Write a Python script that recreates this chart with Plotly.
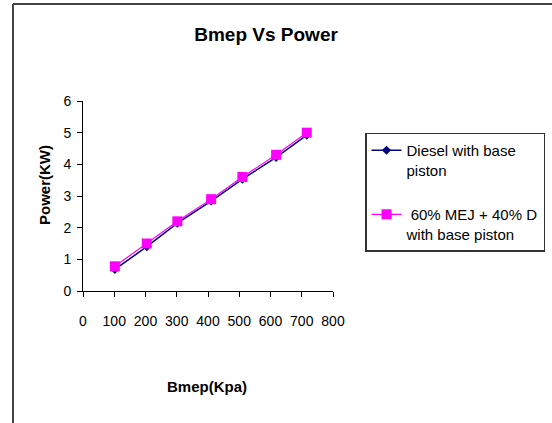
import plotly.graph_objects as go

# Brake mean effective pressure (kPa) and measured power (kW)
bmep = [102, 204, 302, 410, 510, 618, 716]
power_diesel = [0.68, 1.40, 2.14, 2.84, 3.53, 4.22, 4.92]
power_blend = [0.78, 1.50, 2.20, 2.90, 3.60, 4.30, 5.00]

x_ticks = [0, 100, 200, 300, 400, 500, 600, 700, 800]
y_ticks = [0, 1, 2, 3, 4, 5, 6]

FONT = "Liberation Sans, Arial, sans-serif"

fig = go.Figure()
fig.add_trace(go.Scatter(
    x=bmep, y=power_diesel, mode="lines+markers",
    name="Diesel with base<br>piston", legendgroup="diesel",
    line=dict(color="#000080", width=1.5),
    marker=dict(symbol="diamond", size=7, color="#000080"),
))
fig.add_trace(go.Scatter(
    x=bmep, y=power_blend, mode="lines+markers",
    name=" 60% MEJ + 40% D<br>with base piston", legendgroup="blend",
    line=dict(color="#FF00FF", width=1.2),
    marker=dict(symbol="square", size=10, color="#FF00FF"),
))

axis_common = dict(
    showgrid=False, zeroline=False, showline=True, linecolor="black",
    linewidth=1, ticks="outside", ticklen=5, tickcolor="black",
    tickangle=0, automargin=False,
    tickfont=dict(family=FONT, size=14, color="black"),
)
fig.update_xaxes(range=[0, 800], tickvals=x_ticks, ticklabelstandoff=12,
                 **axis_common)
fig.update_yaxes(range=[0, 6], tickvals=y_ticks, ticklabelstandoff=3,
                 **axis_common)

fig.update_layout(
    width=552, height=423,
    margin=dict(l=83, r=219, t=101, b=132, autoexpand=False),
    paper_bgcolor="white", plot_bgcolor="white",
    font=dict(family=FONT, color="black"),
    title=dict(text="<b>Bmep Vs Power</b>", x=0.482, xanchor="center",
               y=1 - 34 / 423, yanchor="middle",
               font=dict(family=FONT, size=19, color="black")),
    showlegend=True,
    legend=dict(x=1.128, xanchor="left", y=0.834, yanchor="top",
                bordercolor="#333333", borderwidth=1.5, bgcolor="white",
                valign="top", tracegroupgap=22,
                font=dict(family=FONT, size=15, color="black")),
    annotations=[
        dict(text="<b>Bmep(Kpa)</b>", xref="paper", yref="paper",
             x=0.496, y=-0.505, showarrow=False, xanchor="center",
             yanchor="middle", font=dict(family=FONT, size=15)),
        dict(text="<b>Power(KW)</b>", xref="paper", yref="paper",
             x=-0.152, y=0.558, showarrow=False, textangle=-90,
             xanchor="center", yanchor="middle",
             font=dict(family=FONT, size=15)),
    ],
    shapes=[
        # chart area frame: left and top edges
        dict(type="line", xref="paper", yref="paper",
             x0=-0.28, x1=-0.28, y0=-0.7, y1=1.5105,
             line=dict(color="#444444", width=2), layer="below"),
        dict(type="line", xref="paper", yref="paper",
             x0=-0.28, x1=1.88, y0=1.5105, y1=1.5105,
             line=dict(color="#444444", width=2), layer="below"),
    ],
)

fig.write_html("out.html")
